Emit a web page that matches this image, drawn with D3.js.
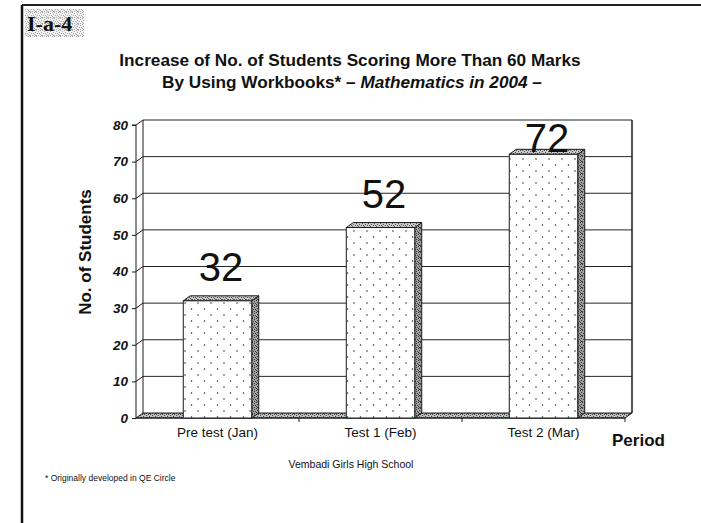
<!DOCTYPE html>
<html>
<head>
<meta charset="utf-8">
<script src="https://cdn.jsdelivr.net/npm/d3@7"></script>
<style>
  html, body { margin: 0; padding: 0; background: #fff; }
  svg { display: block; }
  text { font-family: Arial, "Liberation Sans", Helvetica, sans-serif; fill: #111; }
</style>
</head>
<body>
<svg id="chart" width="701" height="523"></svg>
<script>
// Students scoring more than 60 marks, per test period
const categories = ["Pre test (Jan)", "Test 1 (Feb)", "Test 2 (Mar)"];
const students = [32, 52, 72];
const yTicks = [0, 10, 20, 30, 40, 50, 60, 70, 80];

const svg = d3.select("#chart");
const W = 701, H = 523;

// 3D depth offset of the back wall
const dx = 7, dy = -5;
const plotLeft = 136, plotRight = 625, plotBottom = 418, plotTop = 125;

const x = d3.scaleBand().domain(categories).range([plotLeft, plotRight])
  .paddingInner(0.58).paddingOuter(0.29);
const y = d3.scaleLinear().domain([0, 80]).range([plotBottom, plotTop]);

// ---- patterns ----
const defs = svg.append("defs");

const dots = defs.append("pattern").attr("id", "dots")
  .attr("patternUnits", "userSpaceOnUse").attr("width", 13).attr("height", 12);
dots.append("rect").attr("width", 13).attr("height", 12).attr("fill", "#fff");
dots.append("circle").attr("cx", 3).attr("cy", 3).attr("r", 0.75).attr("fill", "#222");
dots.append("circle").attr("cx", 9.5).attr("cy", 9).attr("r", 0.75).attr("fill", "#222");

// irregular grey stipple used on the bar tops, sides and floor
const speckles = [[0, 0], [4, 0], [2, 1], [5, 2], [1, 3], [3, 3], [4, 4], [0, 5], [2, 5], [5, 5]];
function stipple(id, bg, dark) {
  const p = defs.append("pattern").attr("id", id)
    .attr("patternUnits", "userSpaceOnUse").attr("width", 6).attr("height", 6);
  p.append("rect").attr("width", 6).attr("height", 6).attr("fill", bg);
  speckles.forEach(([px, py]) =>
    p.append("rect").attr("x", px).attr("y", py).attr("width", 1).attr("height", 1).attr("fill", dark));
}
stipple("sideFill", "#a0a0a0", "#3a3a3a");
stipple("topFill", "#c8c8c8", "#555");
stipple("floorFill", "#bdbdbd", "#4a4a4a");
stipple("badgeFill", "#f2f2f2", "#a8a8a8");

// ---- page frame ----
svg.append("line").attr("x1", 22).attr("x2", 22).attr("y1", 5).attr("y2", H)
  .attr("stroke", "#111").attr("stroke-width", 2.5);
svg.append("line").attr("x1", 22).attr("x2", W).attr("y1", 5).attr("y2", 5)
  .attr("stroke", "#222").attr("stroke-width", 2);

// slide code badge
svg.append("rect").attr("x", 25).attr("y", 9).attr("width", 59).attr("height", 28)
  .attr("fill", "url(#badgeFill)");
svg.append("text").attr("x", 27).attr("y", 31)
  .style("font-family", "'Liberation Serif', 'Times New Roman', serif")
  .style("font-weight", "bold").style("font-size", "22px").text("I-a-4");

// ---- title ----
svg.append("text").attr("x", 350).attr("y", 66).attr("text-anchor", "middle")
  .style("font-weight", "bold").style("font-size", "17.2px")
  .text("Increase of No. of Students Scoring More Than 60 Marks");
const t2 = svg.append("text").attr("x", 352).attr("y", 88).attr("text-anchor", "middle")
  .style("font-weight", "bold").style("font-size", "17.2px");
t2.append("tspan").text("By Using Workbooks* \u2013 ");
t2.append("tspan").style("font-style", "italic").text("Mathematics in 2004 \u2013");

// ---- back wall gridlines ----
const g = svg.append("g");
const line = "#1a1a1a";

g.selectAll(".grid").data(yTicks.filter(d => d > 0)).join("line")
  .attr("x1", plotLeft + dx).attr("x2", plotRight + dx)
  .attr("y1", d => y(d) + dy).attr("y2", d => y(d) + dy)
  .attr("stroke", "#262626").attr("stroke-width", 1);
// left wall connectors
g.selectAll(".conn").data(yTicks.filter(d => d > 0)).join("line")
  .attr("x1", plotLeft).attr("x2", plotLeft + dx)
  .attr("y1", d => y(d)).attr("y2", d => y(d) + dy)
  .attr("stroke", line).attr("stroke-width", 1);
// back wall left & right edges
g.append("line").attr("x1", plotLeft + dx).attr("x2", plotLeft + dx)
  .attr("y1", y(80) + dy).attr("y2", plotBottom + dy).attr("stroke", line);
g.append("line").attr("x1", plotRight + dx).attr("x2", plotRight + dx)
  .attr("y1", y(80) + dy).attr("y2", plotBottom + dy).attr("stroke", line).attr("stroke-width", 1.5);

// floor
g.append("path")
  .attr("d", `M${plotLeft},${plotBottom} L${plotLeft + dx},${plotBottom + dy} L${plotRight + dx},${plotBottom + dy} L${plotRight},${plotBottom} Z`)
  .attr("fill", "url(#floorFill)").attr("stroke", line).attr("stroke-width", 1);

// ---- y axis ----
const yAxis = d3.axisLeft(y).tickValues(yTicks).tickSize(4).tickPadding(4);
const ya = svg.append("g").attr("transform", `translate(${plotLeft},0)`).call(yAxis);
ya.select(".domain").attr("stroke", line).attr("d", `M-4,${y(80)}H0V${plotBottom}`);
ya.selectAll(".tick line").attr("stroke", line);
ya.selectAll(".tick text")
  .style("font-family", "Arial, 'Liberation Sans', sans-serif")
  .style("font-weight", "bold").style("font-style", "italic").style("font-size", "13.5px")
  .attr("fill", "#111");

svg.append("text")
  .attr("transform", `translate(91,252) rotate(-90)`)
  .attr("text-anchor", "middle")
  .style("font-weight", "bold").style("font-size", "17px")
  .text("No. of Students");

// ---- x axis ----
const xa = svg.append("g").attr("transform", `translate(0,${plotBottom})`);
xa.append("line").attr("x1", plotLeft).attr("x2", plotRight).attr("stroke", line);
const bounds = [plotRight].concat(categories.slice(1).map(c => x(c) - x.step() * x.paddingInner() / 2));
xa.selectAll(".xt").data(bounds).join("line")
  .attr("x1", d => d).attr("x2", d => d).attr("y1", 0).attr("y2", 4).attr("stroke", line);
xa.selectAll(".xl").data(categories).join("text")
  .attr("x", d => x(d) + x.bandwidth() / 2).attr("y", 19)
  .attr("text-anchor", "middle").style("font-size", "13.5px")
  .text(d => d);

svg.append("text").attr("x", 612).attr("y", 446)
  .style("font-weight", "bold").style("font-size", "17px").text("Period");

// ---- bars ----
const bars = svg.append("g").selectAll("g").data(categories.map((c, i) => ({ c, v: students[i] })))
  .join("g");

bars.append("path") // side face
  .attr("d", d => {
    const x1 = x(d.c) + x.bandwidth(), yt = y(d.v);
    return `M${x1},${yt} L${x1 + dx},${yt + dy} L${x1 + dx},${plotBottom + dy} L${x1},${plotBottom} Z`;
  })
  .attr("fill", "url(#sideFill)").attr("stroke", line).attr("stroke-width", 1);
bars.append("path") // top face
  .attr("d", d => {
    const x0 = x(d.c), x1 = x0 + x.bandwidth(), yt = y(d.v);
    return `M${x0},${yt} L${x0 + dx},${yt + dy} L${x1 + dx},${yt + dy} L${x1},${yt} Z`;
  })
  .attr("fill", "url(#topFill)").attr("stroke", line).attr("stroke-width", 1);
bars.append("rect") // front face
  .attr("x", d => x(d.c)).attr("y", d => y(d.v))
  .attr("width", x.bandwidth()).attr("height", d => plotBottom - y(d.v))
  .attr("fill", "url(#dots)").attr("stroke", line).attr("stroke-width", 1);

// value labels
bars.append("text")
  .attr("x", d => x(d.c) + x.bandwidth() / 2 + dx / 2)
  .attr("y", d => Math.max(y(d.v) - 20, y(80) + 27))
  .attr("text-anchor", "middle").style("font-size", "40px")
  .text(d => d.v);

// ---- footer ----
svg.append("text").attr("x", 351).attr("y", 468).attr("text-anchor", "middle")
  .style("font-size", "10.5px").text("Vembadi Girls High School");
svg.append("text").attr("x", 45).attr("y", 481)
  .style("font-size", "8.5px").text("* Originally developed in QE Circle");
</script>
</body>
</html>
